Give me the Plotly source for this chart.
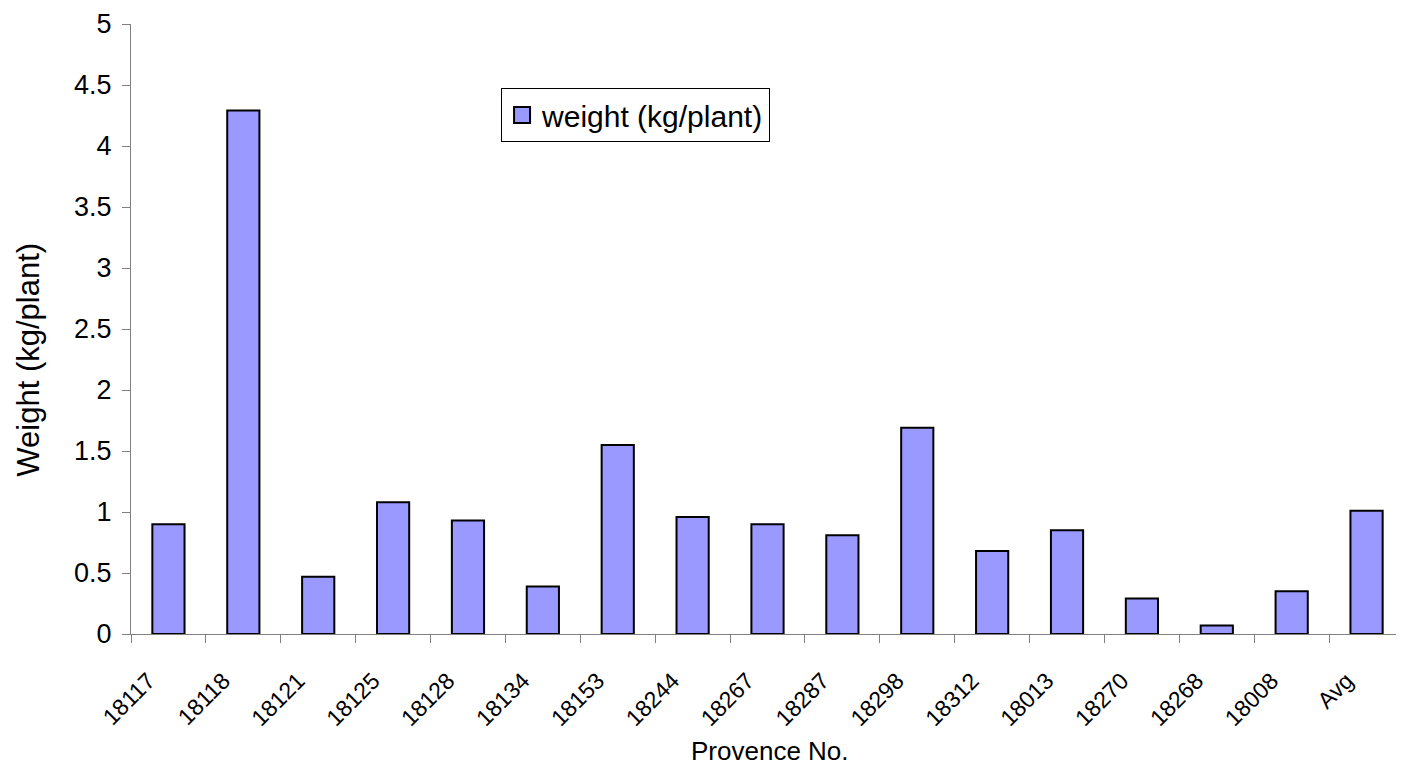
import plotly.graph_objects as go

categories = ["18117", "18118", "18121", "18125", "18128", "18134", "18153", "18244",
              "18267", "18287", "18298", "18312", "18013", "18270", "18268", "18008", "Avg"]
weights = [0.90, 4.29, 0.47, 1.08, 0.93, 0.39, 1.55, 0.96,
           0.90, 0.81, 1.69, 0.68, 0.85, 0.29, 0.07, 0.35, 1.01]
y_ticks = [0, 0.5, 1, 1.5, 2, 2.5, 3, 3.5, 4, 4.5, 5]
y_tick_text = ["0", "0.5", "1", "1.5", "2", "2.5", "3", "3.5", "4", "4.5", "5"]

FONT = "Liberation Sans, Arial, sans-serif"
BAR_COLOR = "#9999FF"

fig = go.Figure()
fig.add_trace(go.Bar(
    x=categories, y=weights, name="weight (kg/plant)", showlegend=False,
    marker=dict(color=BAR_COLOR, line=dict(color="black", width=2)),
))
# legend-only entry with a larger square swatch
fig.add_trace(go.Scatter(
    x=[None], y=[None], mode="markers", name="weight (kg/plant)",
    marker=dict(symbol="square", size=16, color=BAR_COLOR, line=dict(color="black", width=2)),
))

fig.update_layout(
    width=1396, height=757,
    margin=dict(l=123, r=0, t=16, b=131, autoexpand=False),
    plot_bgcolor="white", paper_bgcolor="white",
    font=dict(family=FONT, color="black"),
    bargap=0.57,
    showlegend=True,
    legend=dict(
        x=0.2907, y=0.895, xanchor="left", yanchor="top",
        bordercolor="black", borderwidth=1, bgcolor="white",
        font=dict(size=30, family=FONT),
        itemsizing="trace", itemwidth=30,
        tracegroupgap=0,
    ),
    xaxis=dict(
        type="category", range=[-0.5, 16.5],
        showline=True, linecolor="#808080", linewidth=1.3,
        ticks="outside", tickson="boundaries", ticklen=8, tickcolor="#808080",
        tickangle=-45, tickfont=dict(size=23, family=FONT),
        ticklabelshift=-20, ticklabelstandoff=23,
        showgrid=False,
    ),
    yaxis=dict(
        range=[0, 5], tickvals=y_ticks, ticktext=y_tick_text,
        showline=True, linecolor="#808080", linewidth=1.3,
        ticks="outside", ticklen=8, tickcolor="#808080", ticklabelstandoff=5,
        tickfont=dict(size=27, family=FONT),
        showgrid=False, zeroline=False,
    ),
    annotations=[
        dict(
            text="Weight (kg/plant)", textangle=-90, showarrow=False,
            xref="paper", yref="paper", x=-0.0805, y=0.449,
            xanchor="center", yanchor="middle",
            font=dict(size=31, family=FONT),
        ),
        dict(
            text="Provence No.", showarrow=False,
            xref="paper", yref="paper", x=0.502, y=-0.192,
            xanchor="center", yanchor="middle",
            font=dict(size=26, family=FONT),
        ),
    ],
)

fig.write_html("out.html")
